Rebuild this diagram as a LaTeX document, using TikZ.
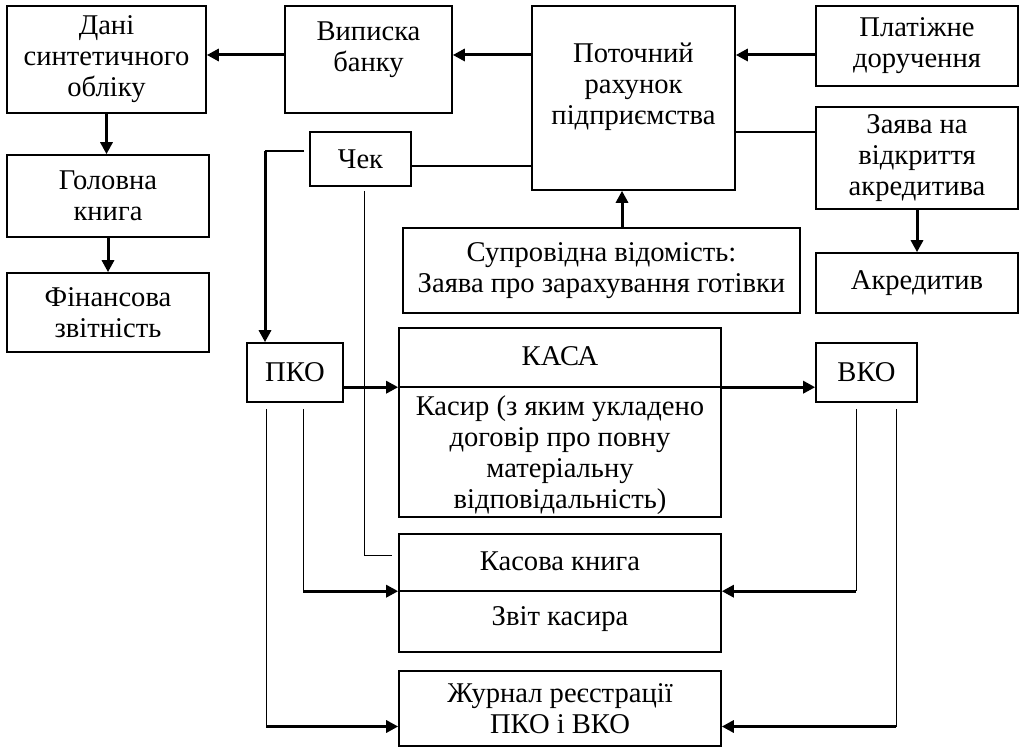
\documentclass[tikz,border=0pt]{standalone}
\usepackage{fontspec}
\setmainfont{Liberation Serif}
\usetikzlibrary{arrows.meta, calc}

\begin{document}
\begin{tikzpicture}[x=0.5pt, y=-0.5pt]

\tikzset{box/.style = {draw, line width=0.8pt, align=center, inner sep=2pt, font=\fontsize{14.3}{15.5}\selectfont}}
\tikzset{boxsize/.style 2 args = {minimum width=#1*0.5pt, minimum height=#2*0.5pt}}
\tikzset{txt/.style = {align=center, inner sep=0pt, font=\fontsize{14.3}{15.5}\selectfont}}
\tikzset{arr/.style = {-{Triangle[length=6pt,width=6pt]}, line width=1.5pt}}
\tikzset{thinl/.style = {line width=0.7pt}}
\useasboundingbox (0,0) rectangle (1020,748);
%top row
\node[box, boxsize={199}{107}] (dani) at (106.5,59.5) {Дані\\синтетичного\\обліку};
\node[box, boxsize={167}{107}] (vyp) at (368.5,59.5) {};
\node[txt] (vyptext) at (368.5,50) {Виписка\\банку};
\node[box, boxsize={203}{184}] (potoch) at (633.5,98) {};
\node[txt] (potochtext) at (633.5,87) {Поточний\\рахунок\\підприємства};
\node[box, boxsize={202}{80}] (plat) at (917,46) {Платіжне\\доручення};
\node[box, boxsize={202}{102}] (zayava) at (917,158) {Заява на\\відкриття\\акредитива};
\node[box, boxsize={202}{60}] (akred) at (917,283) {Акредитив};
%left column
\node[box, boxsize={202}{82}] (golov) at (108,196) {Головна\\книга};
\node[box, boxsize={202}{79}] (fin) at (108,312.5) {Фінансова\\звітність};
%documents
\node[box, boxsize={101}{54}] (chek) at (360.5,159) {Чек};
\node[box, boxsize={397}{85}] (supr) at (601.5,270.5) {Супровідна відомість:\\Заява про зарахування готівки};
\node[box, boxsize={96}{59}] (pko) at (295,372.5) {ПКО};
\node[box, boxsize={101}{59}] (vko) at (866.5,372.5) {ВКО};
%cash desk
\node[box, boxsize={322}{189}] (kasa) at (560,422.5) {};
\node[txt] (kasatitle) at (560,356) {КАСА};
\node[txt] (kasyr) at (560,455) {Касир (з яким укладено\\договір про повну\\матеріальну\\відповідальність)};
\node[box, boxsize={322}{118}] (knyha) at (560,593) {};
\node[txt] (knyhatitle) at (560,561) {Касова книга};
\node[txt] (zvit) at (560,619) {Звіт касира};
\node[box, boxsize={322}{75}] (zhurnal) at (560,708.5) {Журнал реєстрації\\ПКО і ВКО};
%helper points
\coordinate (r1) at (0,55);
\coordinate (r2) at (0,132);
\coordinate (r3) at (622,0);
\coordinate (kd) at ($(kasa.north west)+(0,60)$);
\coordinate (kn) at ($(knyha.north west)+(0,58)$);
\coordinate (zj) at ($(zhurnal.west)+(0,18)$);
\coordinate (c1) at (265,151);
\coordinate (p1) at ($(pko.south west)+(20,6)$);
\coordinate (p2) at ($(pko.south west)+(57,6)$);
\coordinate (v1) at ($(vko.south west)+(41,6)$);
\coordinate (v2) at ($(vko.south west)+(81,6)$);
%dividers
\draw[line width=0.8pt] (kd -| kasa.west) -- (kd -| kasa.east);
\draw[line width=0.8pt] (kn) -- (kn -| knyha.east);
%edges
\draw[arr] (r1 -| vyp.west) -- (r1 -| dani.east);
\draw[arr] (r1 -| potoch.west) -- (r1 -| vyp.east);
\draw[arr] (r1 -| plat.west) -- (r1 -| potoch.east);
\draw[thinl] (r2 -| potoch.east) -- (r2 -| zayava.west);
\draw[arr] (zayava.south) -- (akred.north);
\draw[arr] (r3 |- supr.north) -- (r3 |- potoch.south);
\draw[arr] (dani.south) -- (dani.south |- golov.north);
\draw[arr] (golov.south) -- (fin.north);
\draw[thinl] ([yshift=-3.5pt]chek.east) -- ([yshift=-3.5pt]chek.east -| potoch.west);
\draw[thinl] ([xshift=-2.5pt,yshift=4pt]chek.west) -- (c1);
\draw[arr] (c1) -- (c1 |- pko.north);
\draw[thinl] ($(chek.south)+(4,4)$) |- ($(knyha.north west)+(-6,22)$);
\draw[arr] (kd -| pko.east) -- (kd -| kasa.west);
\draw[arr] (kd -| kasa.east) -- (kd -| vko.west);
\draw[thinl] (p1) -- (p1 |- zj);
\draw[arr] (p1 |- zj) -- (zj);
\draw[thinl] (p2) -- (p2 |- kn);
\draw[arr] (p2 |- kn) -- (kn);
\draw[thinl] (v1) -- (v1 |- kn);
\draw[arr] (v1 |- kn) -- (kn -| knyha.east);
\draw[thinl] (v2) -- (v2 |- zj);
\draw[arr] (v2 |- zj) -- (zj -| zhurnal.east);

\end{tikzpicture}
\end{document}
